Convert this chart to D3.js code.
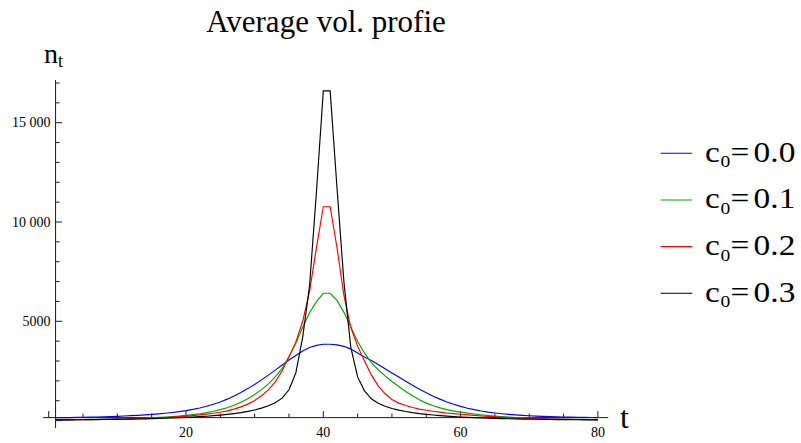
<!DOCTYPE html>
<html>
<head>
<meta charset="utf-8">
<script src="https://cdn.jsdelivr.net/npm/d3@7"></script>
<style>
  html, body { margin: 0; padding: 0; background: #fff; }
  svg { display: block; }
  text { font-family: "Liberation Serif", "Times New Roman", serif; fill: #000; }
</style>
</head>
<body>
<script>
// ---------------- data ----------------
const tValues = d3.range(1, 81); // t = 1 .. 80

const seriesNames = ["0.0", "0.1", "0.2", "0.3"];
const seriesColors = ["#0000ff", "#00a800", "#ff0000", "#000000"];

const c00 = [143,148,153,159,166,174,182,192,203,216,230,247,266,288,312,340,372,410,455,505,565,635,720,820,940,1080,1240,1420,1610,1820,2050,2290,2540,2800,3050,3280,3500,3680,3790,3842,
             3842,3815,3740,3600,3400,3200,3030,2820,2610,2400,2190,1980,1780,1580,1400,1230,1080,940,820,715,625,550,485,430,385,345,312,285,262,243,227,213,201,190,181,173,166,160,155,150];

const c01 = [41,44,47,51,55,60,65,71,78,85,94,104,115,128,143,160,180,203,230,262,300,345,400,470,550,650,770,920,1100,1310,1560,1850,2200,2620,3230,3900,4700,5430,5990,6410,
             6410,6050,5450,4730,3980,3400,2920,2560,2250,1970,1720,1470,1250,1050,880,750,640,550,480,425,375,330,290,255,225,198,175,155,138,123,110,99,89,81,74,68,63,58,54,50];

const c02 = [32,35,38,41,45,49,54,59,65,72,80,89,99,110,123,138,155,175,198,224,252,285,325,370,420,490,580,690,830,1010,1250,1550,1950,2500,3200,3950,5000,6500,8700,10770,
             10770,8700,6300,4700,3750,3000,2300,1750,1350,1060,880,760,660,580,520,470,425,385,350,318,288,260,234,210,188,168,150,134,120,108,97,88,80,73,67,62,57,53,49,46];

const c03 = [34,36,38,41,44,47,51,55,59,64,70,76,83,90,99,108,119,131,145,160,178,198,221,247,277,312,354,403,462,535,630,750,900,1130,1550,2400,4200,6800,11500,16600,
             16600,11700,7000,3700,2200,1500,1100,870,720,610,525,458,400,352,313,280,250,225,202,182,164,148,134,122,111,101,93,85,78,72,66,61,56,52,48,45,42,39,37,35];

const seriesValues = [c00, c01, c02, c03];

const xMajorTicks = [0, 20, 40, 60, 80];
const xTickLabels = ["", "20", "40", "60", "80"];
const xMinorTicks = [5, 10, 15, 25, 30, 35, 45, 50, 55, 65, 70, 75];
const yMajorTicks = [0, 5000, 10000, 15000];
const yTickLabels = ["", "5000", "10 000", "15 000"];
const yMinorTicks = [1000, 2000, 3000, 4000, 6000, 7000, 8000, 9000, 11000, 12000, 13000, 14000, 16000, 17000];

const titleText = "Average vol. profie";

// ---------------- layout ----------------
const W = 801, H = 443;
const x = d3.scaleLinear().domain([20, 80]).range([186, 597.9]);
const y = d3.scaleLinear().domain([0, 15000]).range([420.6, 122.7]);
const xAxisAtValue = 150;   // where the t axis crosses
const yAxisAtT = 1;         // where the n axis crosses

const svg = d3.select("body").append("svg").attr("width", W).attr("height", H);

const axisColor = "#1a1a1a";
const xAxisY = y(xAxisAtValue);
const yAxisX = x(yAxisAtT);

// title
svg.append("text").attr("x", 326).attr("y", 32).attr("text-anchor", "middle")
  .style("font-size", "31px").text(titleText);

// axis lines
svg.append("line").attr("x1", x(-0.8)).attr("x2", x(81.5)).attr("y1", xAxisY).attr("y2", xAxisY)
  .attr("stroke", axisColor).attr("stroke-width", 1);
svg.append("line").attr("x1", yAxisX).attr("x2", yAxisX).attr("y1", y(-380)).attr("y2", y(17150))
  .attr("stroke", axisColor).attr("stroke-width", 1);

// x ticks (pointing up)
svg.selectAll(".xmaj").data(xMajorTicks).join("line")
  .attr("x1", d => x(d)).attr("x2", d => x(d)).attr("y1", xAxisY).attr("y2", xAxisY - 6.5)
  .attr("stroke", axisColor).attr("stroke-width", 1);
svg.selectAll(".xmin").data(xMinorTicks).join("line")
  .attr("x1", d => x(d)).attr("x2", d => x(d)).attr("y1", xAxisY).attr("y2", xAxisY - 4)
  .attr("stroke", axisColor).attr("stroke-width", 1);
svg.selectAll(".xlab").data(xMajorTicks).join("text")
  .attr("x", d => x(d)).attr("y", 436.5).attr("text-anchor", "middle")
  .style("font-size", "14px").text((d, i) => xTickLabels[i]);

// y ticks (pointing right)
svg.selectAll(".ymaj").data(yMajorTicks).join("line")
  .attr("x1", yAxisX).attr("x2", yAxisX + 6.5).attr("y1", d => y(d)).attr("y2", d => y(d))
  .attr("stroke", axisColor).attr("stroke-width", 1);
svg.selectAll(".ymin").data(yMinorTicks).join("line")
  .attr("x1", yAxisX).attr("x2", yAxisX + 4).attr("y1", d => y(d)).attr("y2", d => y(d))
  .attr("stroke", axisColor).attr("stroke-width", 1);
svg.selectAll(".ylab").data(yMajorTicks).join("text")
  .attr("x", 50.5).attr("y", d => y(d)).attr("dy", "0.34em").attr("text-anchor", "end")
  .style("font-size", "14px").text((d, i) => yTickLabels[i]);

// axis labels
const nLab = svg.append("text").attr("x", 44).attr("y", 63).style("font-size", "28px");
nLab.append("tspan").text("n");
nLab.append("tspan").attr("dy", 4).style("font-size", "18px").text("t");

svg.append("text").attr("x", 620).attr("y", 428).style("font-size", "32px").text("t");

// lines
const line = d3.line().x(d => x(d[0])).y(d => y(d[1]));
seriesValues.forEach((vals, i) => {
  svg.append("path")
    .datum(tValues.map((t, k) => [t, vals[k]]))
    .attr("d", line)
    .attr("fill", "none")
    .attr("stroke", seriesColors[i])
    .attr("stroke-width", 1.15)
    .attr("stroke-linejoin", "miter");
});

// legend
const legY0 = 153.3, legDY = 46.67;
seriesNames.forEach((name, i) => {
  const ly = legY0 + i * legDY;
  svg.append("line").attr("x1", 660.7).attr("x2", 692.3).attr("y1", ly).attr("y2", ly)
    .attr("stroke", seriesColors[i]).attr("stroke-width", 1.1);
  const sx = 1.15;
  const t = svg.append("text")
    .attr("transform", `translate(705,${ly + 8.4}) scale(${sx},1)`)
    .style("font-size", "29px");
  t.append("tspan").attr("x", 0).attr("y", 0).text("c");
  t.append("tspan").attr("x", (720.5 - 705) / sx).attr("y", 5.5).style("font-size", "17px").text("0");
  t.append("tspan").attr("x", (730.5 - 705) / sx).attr("y", 0).text("=");
  t.append("tspan").style("font-size", "15px").text(" ");
  t.append("tspan").text(name);
});
</script>
</body>
</html>
